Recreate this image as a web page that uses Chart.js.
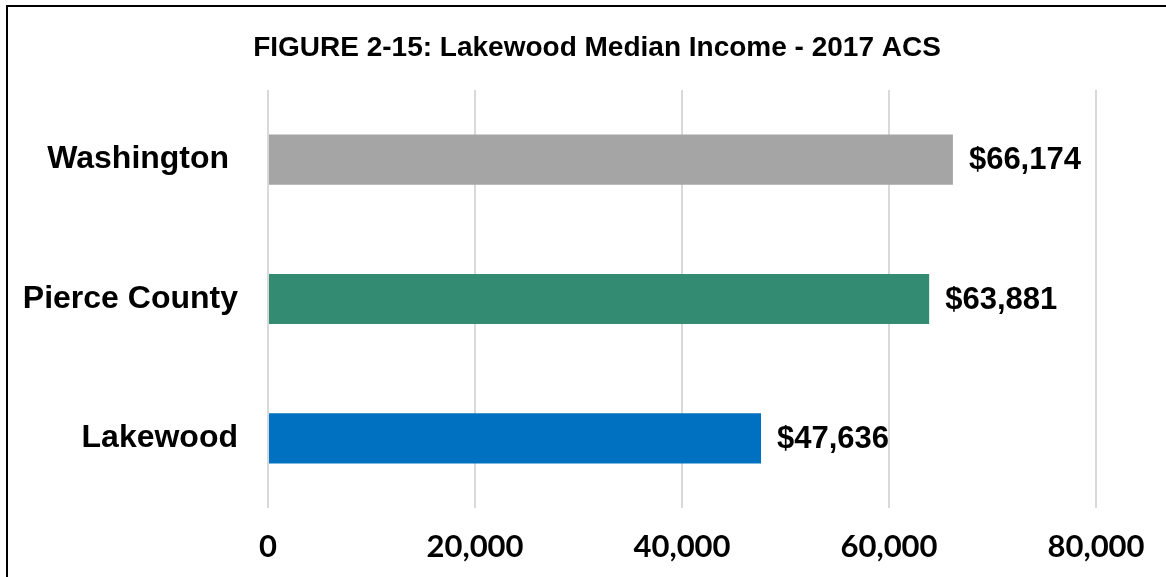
<!DOCTYPE html>
<html>
<head>
<meta charset="utf-8">
<script src="https://cdn.jsdelivr.net/npm/chart.js@4.4.0/dist/chart.umd.min.js"></script>
<style>
  html, body { margin: 0; padding: 0; background: #fff; overflow: hidden; }
  #wrap { position: relative; width: 1166px; height: 577px; }
  #frame { position: absolute; left: 6px; top: 5px; width: 2000px; height: 2000px;
           border-left: 2px solid #000; border-top: 2px solid #000; pointer-events: none; }
</style>
</head>
<body>
<div id="wrap">
  <canvas id="myChart" width="1166" height="577"></canvas>
  <div id="frame"></div>
</div>
<script>
const places = ["Washington ", "Pierce County", "Lakewood"];
const medianIncome = [66174, 63881, 47636];
const barColors = ["#A5A5A5", "#338C72", "#0070C0"];
const xTicks = [0, 20000, 40000, 60000, 80000];
const chartTitle = "FIGURE 2-15: Lakewood Median Income - 2017 ACS";

// title sits a bit right of the canvas centre, so it is drawn by hand
const figTitle = {
  id: "figTitle",
  afterDraw(chart) {
    const ctx = chart.ctx;
    ctx.save();
    ctx.font = "bold 28px 'Liberation Sans', Arial, sans-serif";
    ctx.fillStyle = "#000";
    ctx.textAlign = "center";
    ctx.textBaseline = "middle";
    ctx.fillText(chartTitle, 597, 48);
    ctx.restore();
  }
};

// draws the "$66,174" style labels at the end of each bar
const valueLabels = {
  id: "valueLabels",
  afterDatasetsDraw(chart) {
    const ctx = chart.ctx;
    const meta = chart.getDatasetMeta(0);
    ctx.save();
    ctx.font = "bold 31px 'Liberation Sans', Arial, sans-serif";
    ctx.fillStyle = "#000";
    ctx.textAlign = "left";
    ctx.textBaseline = "middle";
    meta.data.forEach(function (bar, i) {
      ctx.fillText("$" + medianIncome[i].toLocaleString("en-US"), bar.x + 16, bar.y + 1);
    });
    ctx.restore();
  }
};

new Chart("myChart", {
  type: "bar",
  data: {
    labels: places,
    datasets: [{
      data: medianIncome,
      backgroundColor: barColors,
      barPercentage: 0.9,
      categoryPercentage: 0.4
    }]
  },
  options: {
    indexAxis: "y",
    responsive: false,
    animation: false,
    layout: { padding: { left: 0, right: 70, top: 90, bottom: 0 } },
    plugins: {
      legend: { display: false },
      tooltip: { enabled: false },
      title: { display: false }
    },
    scales: {
      x: {
        min: 0,
        max: 80000,
        afterBuildTicks(scale) {
          scale.ticks = xTicks.map(v => ({ value: v }));
        },
        afterFit(scale) { scale.height = 69; },
        grid: { color: "#D9D9D9", lineWidth: 2, drawTicks: false },
        border: { display: false },
        ticks: {
          color: "#000",
          padding: 20,
          maxRotation: 0,
          font: { family: "Lato, sans-serif", size: 31, weight: "bold" },
          callback: v => v.toLocaleString("en-US")
        }
      },
      y: {
        afterFit(scale) { scale.width = 268; },
        grid: { display: false, drawTicks: false },
        border: { display: false },
        ticks: {
          color: "#000",
          padding: 30,
          font: { family: "'Liberation Sans', Arial, sans-serif", size: 32, weight: "bold" }
        }
      }
    }
  },
  plugins: [valueLabels, figTitle]
});
</script>
</body>
</html>
